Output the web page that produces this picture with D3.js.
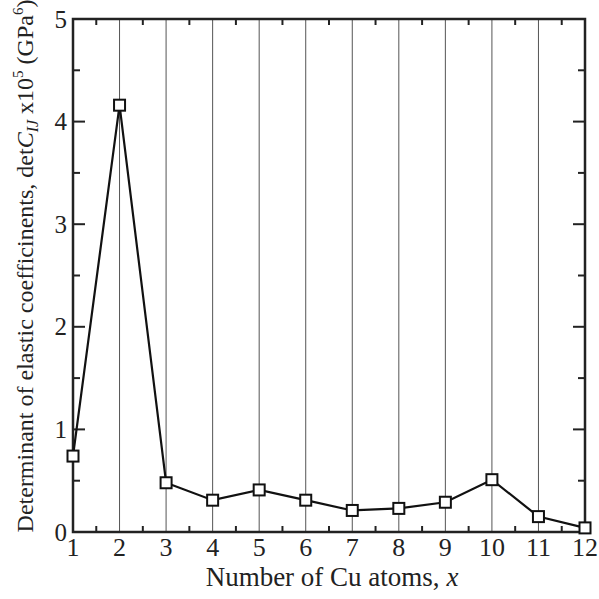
<!DOCTYPE html>
<html lang="en">
<head>
    <script src="https://cdn.jsdelivr.net/npm/d3@7"></script>
    <style>
        body { margin: 0; background: #fff; }
        text { font-family: "Liberation Serif", "DejaVu Serif", serif; fill: #222; }
    </style>
</head>
<body>
<div id="chart"></div>
<script>
    // data
    var atoms = [1, 2, 3, 4, 5, 6, 7, 8, 9, 10, 11, 12]
    var detC = [0.74, 4.16, 0.48, 0.31, 0.41, 0.31, 0.21, 0.23, 0.29, 0.51, 0.15, 0.04]
    var xTicks = [1, 2, 3, 4, 5, 6, 7, 8, 9, 10, 11, 12]
    var yTicks = [0, 1, 2, 3, 4, 5]

    var width = 599,
        height = 599,
        margin = {top: 19, right: 14, bottom: 67, left: 73}

    var svg = d3.select("#chart")
        .append("svg")
            .attr("width", width)
            .attr("height", height)

    var x = d3.scaleLinear().domain([1, 12]).range([margin.left, width - margin.right])
    var y = d3.scaleLinear().domain([0, 5]).range([height - margin.bottom, margin.top])

    // vertical grid lines
    svg.append("g")
        .selectAll("line")
        .data(xTicks.slice(1, -1))
        .enter()
        .append("line")
            .attr("x1", d => x(d)).attr("x2", d => x(d))
            .attr("y1", y(0)).attr("y2", y(5))
            .attr("stroke", "#555")
            .attr("stroke-width", 1)

    // inward ticks on all four sides
    var halfX = d3.range(1.5, 12, 1)
    var halfY = d3.range(0.5, 5, 1)
    var ticks = svg.append("g").attr("stroke", "#222").attr("stroke-width", 2)

    halfX.forEach(function(d) {
        ticks.append("line").attr("x1", x(d)).attr("x2", x(d)).attr("y1", y(0)).attr("y2", y(0) - 6)
        ticks.append("line").attr("x1", x(d)).attr("x2", x(d)).attr("y1", y(5)).attr("y2", y(5) + 6)
    })
    yTicks.forEach(function(d) {
        ticks.append("line").attr("x1", x(1)).attr("x2", x(1) + 12).attr("y1", y(d)).attr("y2", y(d))
        ticks.append("line").attr("x1", x(12)).attr("x2", x(12) - 12).attr("y1", y(d)).attr("y2", y(d))
    })
    halfY.forEach(function(d) {
        ticks.append("line").attr("x1", x(1)).attr("x2", x(1) + 7).attr("y1", y(d)).attr("y2", y(d))
        ticks.append("line").attr("x1", x(12)).attr("x2", x(12) - 7).attr("y1", y(d)).attr("y2", y(d))
    })

    // frame
    svg.append("rect")
        .attr("x", x(1)).attr("y", y(5))
        .attr("width", x(12) - x(1)).attr("height", y(0) - y(5))
        .attr("fill", "none")
        .attr("stroke", "#222")
        .attr("stroke-width", 2.5)

    // tick labels
    svg.append("g")
        .selectAll("text")
        .data(xTicks)
        .enter()
        .append("text")
            .attr("x", d => x(d))
            .attr("y", y(0) + 24)
            .attr("text-anchor", "middle")
            .style("font-size", "26px")
            .text(d => d)

    svg.append("g")
        .selectAll("text")
        .data(yTicks)
        .enter()
        .append("text")
            .attr("x", x(1) - 6)
            .attr("y", d => y(d) + 8.5)
            .attr("text-anchor", "end")
            .style("font-size", "25px")
            .text(d => d)

    // axis titles
    var xl = svg.append("text")
        .attr("x", 332)
        .attr("y", 586)
        .attr("text-anchor", "middle")
        .style("font-size", "27px")
    xl.append("tspan").text("Number of Cu atoms, ")
    xl.append("tspan").style("font-style", "italic").text("x")

    var yl = svg.append("text")
        .attr("transform", "translate(33," + 266 + ") rotate(-90)")
        .attr("text-anchor", "middle")
        .style("font-size", "24px")
    yl.append("tspan").text("Determinant of elastic coefficinents, det")
    yl.append("tspan").style("font-style", "italic").text("C")
    yl.append("tspan").style("font-style", "italic").style("font-size", "16px").attr("dy", 5).text("IJ")
    yl.append("tspan").attr("dy", -5).text("  x10")
    yl.append("tspan").style("font-size", "15px").attr("dy", -10).text("5")
    yl.append("tspan").attr("dy", 10).text(" (GPa")
    yl.append("tspan").style("font-size", "15px").attr("dy", -10).text("6")
    yl.append("tspan").attr("dy", 10).text(")")

    // data line + square markers
    var pts = atoms.map(function(a, i) { return {x: a, y: detC[i]} })

    svg.append("path")
        .datum(pts)
        .attr("fill", "none")
        .attr("stroke", "#111")
        .attr("stroke-width", 2.2)
        .attr("d", d3.line().x(d => x(d.x)).y(d => y(d.y)))

    svg.selectAll("rect.mark")
        .data(pts)
        .enter()
        .append("rect")
            .attr("class", "mark")
            .attr("x", d => x(d.x) - 5.5)
            .attr("y", d => y(d.y) - 5.5)
            .attr("width", 11)
            .attr("height", 11)
            .attr("fill", "#fff")
            .attr("stroke", "#111")
            .attr("stroke-width", 2)
</script>
</body>
</html>
